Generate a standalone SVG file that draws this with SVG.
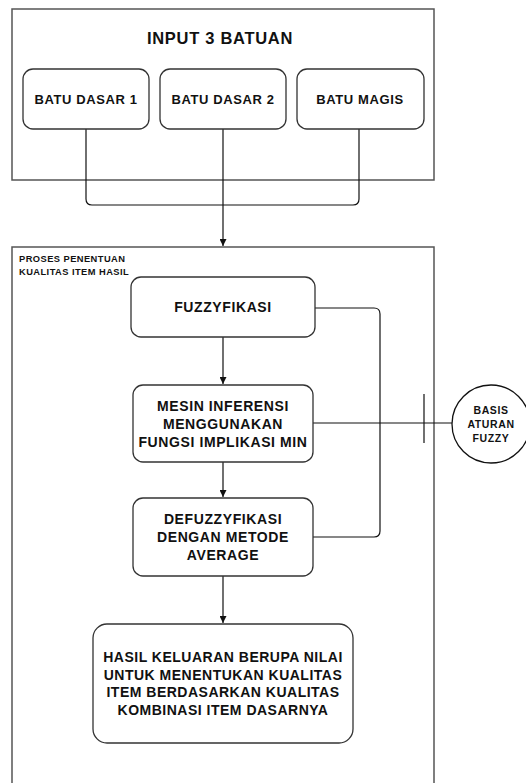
<svg xmlns="http://www.w3.org/2000/svg" width="526" height="783" viewBox="0 0 526 783">
<defs>
<style>
.outer{fill:none;stroke:#555;stroke-width:1.5}
.box{fill:#fff;stroke:#333;stroke-width:1.3}
.t{font-family:"Liberation Sans",Arial,sans-serif;font-weight:bold;fill:#111;text-anchor:middle;dominant-baseline:central}
.c{fill:none;stroke:#111;stroke-width:1.2}
</style>
<marker id="ah" viewBox="0 0 10 10" refX="10" refY="5" markerWidth="7" markerHeight="7" markerUnits="userSpaceOnUse" orient="auto">
<path d="M0,0 L10,5 L0,10 z" fill="#111"/>
</marker>
</defs>
<rect width="526" height="783" fill="#fff"/>
<g id="input-group">
<rect class="outer" x="12" y="9" width="422" height="171"/>
<text class="t" x="220" y="37.5" font-size="16.5" letter-spacing="0.7">INPUT 3 BATUAN</text>
</g>
<g id="proses-group">
<rect class="outer" x="12" y="247" width="422" height="545"/>
<text class="t" x="19" y="259" font-size="9.3" letter-spacing="0.45" style="text-anchor:start">PROSES PENENTUAN</text>
<text class="t" x="19" y="272" font-size="9.3" letter-spacing="0.45" style="text-anchor:start">KUALITAS ITEM HASIL</text>
</g>
<g id="connectors">
<path class="c" d="M86,129 V199 Q86,205 92,205 H353 Q359,205 359,199 V129"/>
<path class="c" d="M223,129 V246" marker-end="url(#ah)"/>
<path class="c" d="M223,337 V384" marker-end="url(#ah)"/>
<path class="c" d="M223,462 V497" marker-end="url(#ah)"/>
<path class="c" d="M223,576 V623" marker-end="url(#ah)"/>
<path class="c" d="M315,308 H374 Q380,308 380,314 V531 Q380,537 374,537 H313"/>
<path class="c" d="M313,423 H452"/>
<path class="c" d="M424,394 V443"/>
</g>
<g id="batu-dasar-1">
<rect class="box" x="23" y="69" width="126" height="60" rx="10"/>
<text class="t" x="86" y="99" font-size="13" letter-spacing="0.6">BATU DASAR 1</text>
</g>
<g id="batu-dasar-2">
<rect class="box" x="160" y="69" width="126" height="60" rx="10"/>
<text class="t" x="223" y="99" font-size="13" letter-spacing="0.6">BATU DASAR 2</text>
</g>
<g id="batu-magis">
<rect class="box" x="297" y="69" width="127" height="60" rx="10"/>
<text class="t" x="360" y="99" font-size="13" letter-spacing="0.6">BATU MAGIS</text>
</g>
<g id="fuzzyfikasi">
<rect class="box" x="131" y="277" width="184" height="60" rx="10"/>
<text class="t" x="223" y="307" font-size="14" letter-spacing="0.6">FUZZYFIKASI</text>
</g>
<g id="mesin-inferensi">
<rect class="box" x="133" y="385" width="180" height="77" rx="10"/>
<text class="t" x="223" y="406" font-size="14" letter-spacing="0.6">MESIN INFERENSI</text>
<text class="t" x="223" y="424" font-size="14" letter-spacing="0.6">MENGGUNAKAN</text>
<text class="t" x="223" y="442" font-size="14" letter-spacing="0.6">FUNGSI IMPLIKASI MIN</text>
</g>
<g id="defuzzyfikasi">
<rect class="box" x="133" y="498" width="180" height="78" rx="10"/>
<text class="t" x="223" y="519" font-size="14" letter-spacing="0.6">DEFUZZYFIKASI</text>
<text class="t" x="223" y="537" font-size="14" letter-spacing="0.6">DENGAN METODE</text>
<text class="t" x="223" y="555" font-size="14" letter-spacing="0.6">AVERAGE</text>
</g>
<g id="hasil">
<rect class="box" x="93" y="624" width="260" height="119" rx="14"/>
<text class="t" x="223" y="657" font-size="14" letter-spacing="0.5">HASIL KELUARAN BERUPA NILAI</text>
<text class="t" x="223" y="674.5" font-size="14" letter-spacing="0.5">UNTUK MENENTUKAN KUALITAS</text>
<text class="t" x="223" y="692" font-size="14" letter-spacing="0.5">ITEM BERDASARKAN KUALITAS</text>
<text class="t" x="223" y="709.5" font-size="14" letter-spacing="0.5">KOMBINASI ITEM DASARNYA</text>
</g>
<g id="basis-aturan-fuzzy">
<circle class="box" cx="491" cy="424" r="39" style="stroke:#111"/>
<text class="t" x="491" y="410" font-size="10.5" letter-spacing="0.6">BASIS</text>
<text class="t" x="491" y="424" font-size="10.5" letter-spacing="0.6">ATURAN</text>
<text class="t" x="491" y="438" font-size="10.5" letter-spacing="0.6">FUZZY</text>
</g>
</svg>
